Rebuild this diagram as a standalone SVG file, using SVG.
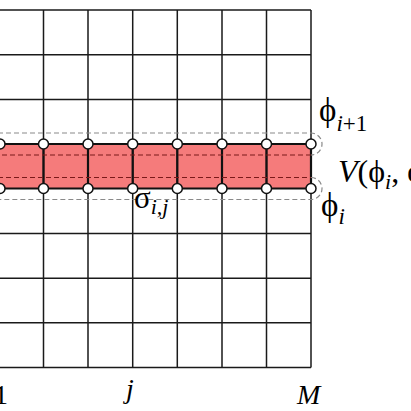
<svg xmlns="http://www.w3.org/2000/svg" width="411" height="411" viewBox="0 0 411 411">
<style>
.grid{stroke:#1a1a1a;stroke-width:1.5;fill:none}
.band{fill:#f57b7b;stroke:none}
.bold{stroke:#111;stroke-width:2.2;fill:none}
.outer{stroke:#8a8a8a;stroke-width:1.2;stroke-dasharray:5 3;fill:none}
.inner{stroke:#7a1a1a;stroke-width:1.1;stroke-dasharray:5 3;fill:none}
.node{fill:#fff;stroke:#111;stroke-width:1.5}
.t{font-family:"Liberation Serif","Times New Roman",serif;fill:#000}
.it{font-style:italic}
</style>
<g id="grid">
<rect class="band" x="-2" y="144" width="313" height="44.5"/>
<path class="grid" d="M-2 10H311M-2 54.7H311M-2 99.4H311M-2 233.5H311M-2 278.2H311M-2 322.8H311M-2 367.5H311
M43.5 10V367.5M88 10V367.5M132.7 10V367.5M177.3 10V367.5M222 10V367.5M266.5 10V367.5M311 10V367.5"/>
<path class="bold" d="M-2 144H311M-2 188.5H311M43.5 144V188.5M88 144V188.5M132.7 144V188.5M177.3 144V188.5M222 144V188.5M266.5 144V188.5M311 144V188.5"/>
</g>
<g id="connectors">
<path class="outer" d="M-2 133H311A11 11 0 0 1 311 155"/>
<path class="inner" d="M311 155H-2"/>
<path class="inner" d="M-2 177.5H311"/>
<path class="outer" d="M311 177.5A11 11 0 0 1 311 199.5H-2"/>
</g>
<g id="nodes">
<circle class="node" cx="0" cy="144" r="5"/>
<circle class="node" cx="43.5" cy="144" r="5"/>
<circle class="node" cx="88" cy="144" r="5"/>
<circle class="node" cx="132.7" cy="144" r="5"/>
<circle class="node" cx="177.3" cy="144" r="5"/>
<circle class="node" cx="222" cy="144" r="5"/>
<circle class="node" cx="266.5" cy="144" r="5"/>
<circle class="node" cx="311" cy="144" r="5"/>
<circle class="node" cx="0" cy="188.5" r="5"/>
<circle class="node" cx="43.5" cy="188.5" r="5"/>
<circle class="node" cx="88" cy="188.5" r="5"/>
<circle class="node" cx="132.7" cy="188.5" r="5"/>
<circle class="node" cx="177.3" cy="188.5" r="5"/>
<circle class="node" cx="222" cy="188.5" r="5"/>
<circle class="node" cx="266.5" cy="188.5" r="5"/>
<circle class="node" cx="311" cy="188.5" r="5"/>
</g>
<g id="labels">
<text class="t" x="319" y="121" font-size="33">ϕ<tspan class="it" font-size="23" dy="10">i</tspan><tspan font-size="23">+1</tspan></text>
<text class="t" x="321" y="216" font-size="33">ϕ<tspan class="it" font-size="23" dy="8">i</tspan></text>
<text class="t" x="338" y="182" font-size="32"><tspan class="it">V</tspan>(ϕ<tspan class="it" font-size="22" dy="7">i</tspan><tspan dy="-7">, ϕ</tspan></text>
<text class="t" x="134" y="208" font-size="31">σ<tspan class="it" font-size="22" dy="6">i,j</tspan></text>
<text class="t" x="-6" y="404" font-size="28">1</text>
<text class="t it" x="126" y="398" font-size="28">j</text>
<text class="t it" x="297" y="404" font-size="28">M</text>
</g>
</svg>
